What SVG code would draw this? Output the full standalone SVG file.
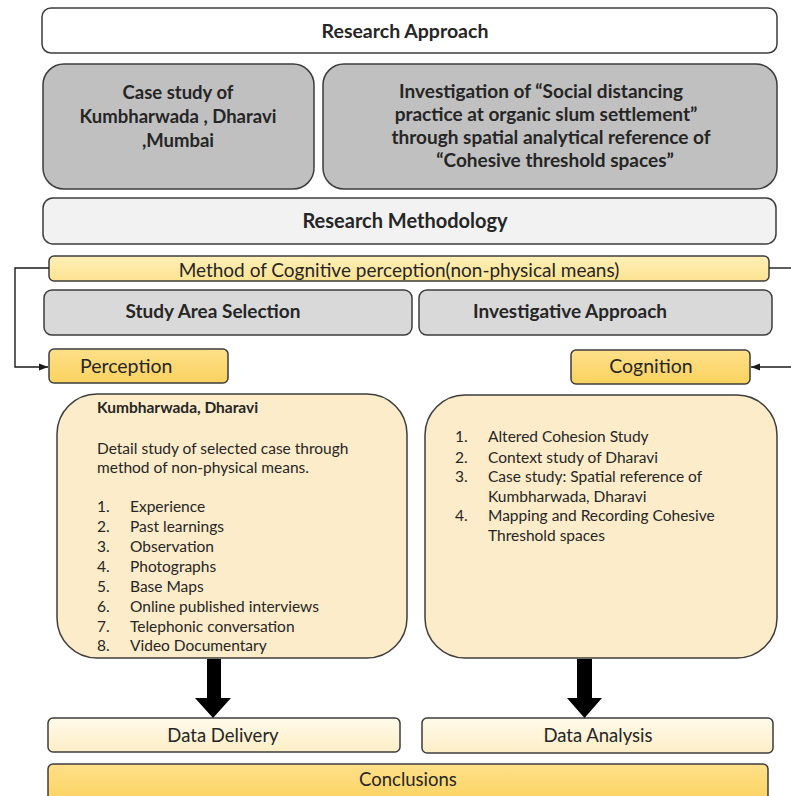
<svg xmlns="http://www.w3.org/2000/svg" width="791" height="796" viewBox="0 0 791 796">
  <defs>
    <marker id="tri" viewBox="0 0 10 10" refX="10" refY="5" markerWidth="9" markerHeight="9" markerUnits="userSpaceOnUse" orient="auto">
      <path d="M0,1 L10,5 L0,9 Z" fill="#1a1a1a"/>
    </marker>
    <linearGradient id="gold" x1="0" y1="0" x2="0" y2="1">
      <stop offset="0" stop-color="#ffe08a"/>
      <stop offset="1" stop-color="#fad25e"/>
    </linearGradient>
    <linearGradient id="cream" x1="0" y1="0" x2="0" y2="1">
      <stop offset="0" stop-color="#fffaea"/>
      <stop offset="1" stop-color="#fdeec6"/>
    </linearGradient>
    <linearGradient id="butter" x1="0" y1="0" x2="0" y2="1">
      <stop offset="0" stop-color="#fff0b8"/>
      <stop offset="1" stop-color="#fde392"/>
    </linearGradient>
  </defs>
  <style>
    .box { stroke: #3d3d3d; stroke-width: 1.5; }
    .t { font-family: Lato, "Open Sans", "Liberation Sans", sans-serif; fill: #262626; }
    .b { font-weight: bold; }
    .c { text-anchor: middle; }
    .conn { fill: none; stroke: #1a1a1a; stroke-width: 1.4; }
    .list { font-size: 15.5px; }
  </style>
  <rect width="791" height="796" fill="#ffffff"/>

  <g id="research-approach">
    <rect class="box" x="42" y="8" width="735" height="45" rx="9" fill="#ffffff"/>
    <text class="t b c" x="405" y="38" font-size="19.5">Research Approach</text>
  </g>

  <g id="case-study">
    <rect class="box" x="43" y="64" width="271" height="125" rx="21" fill="#c0c0c0"/>
    <text class="t b c" font-size="18.5"><tspan x="178" y="99">Case study of</tspan><tspan x="178" y="123">Kumbharwada , Dharavi</tspan><tspan x="178" y="147">,Mumbai</tspan></text>
  </g>

  <g id="investigation">
    <rect class="box" x="323" y="64" width="454" height="125" rx="21" fill="#c0c0c0"/>
    <text class="t b c" font-size="19"><tspan x="541" y="98">Investigation of “Social distancing</tspan><tspan x="546" y="121">practice at organic slum settlement”</tspan><tspan x="551" y="144">through spatial analytical  reference of</tspan><tspan x="555" y="167">“Cohesive threshold spaces”</tspan></text>
  </g>

  <g id="research-methodology">
    <rect class="box" x="43" y="198" width="733" height="46" rx="10" fill="#f2f2f2"/>
    <text class="t b c" x="405" y="228" font-size="20">Research Methodology</text>
  </g>

  <g id="cognitive-method">
    <rect class="box" x="49" y="256" width="720" height="25" rx="5" fill="url(#butter)"/>
    <text class="t c" x="399" y="277" font-size="19">Method of Cognitive perception(non-physical means)</text>
  </g>

  <g id="study-area">
    <rect class="box" x="44" y="290" width="368" height="45" rx="8" fill="#d9d9d9"/>
    <text class="t b c" x="213" y="318" font-size="19">Study Area Selection</text>
  </g>

  <g id="investigative-approach">
    <rect class="box" x="419" y="290" width="353" height="45" rx="8" fill="#d9d9d9"/>
    <text class="t b c" x="570" y="318" font-size="19">Investigative Approach</text>
  </g>

  <g id="perception">
    <rect class="box" x="49" y="349" width="179" height="34" rx="5" fill="url(#gold)"/>
    <text class="t" x="80" y="373" font-size="19.5">Perception</text>
  </g>

  <g id="cognition">
    <rect class="box" x="571" y="350" width="179" height="34" rx="5" fill="url(#gold)"/>
    <text class="t c" x="651" y="373" font-size="19.5">Cognition</text>
  </g>

  <g id="perception-detail">
    <rect class="box" x="57" y="394" width="350" height="264" rx="40" fill="#fcecc9"/>
    <text class="t b" x="97" y="413" font-size="15.5">Kumbharwada,  Dharavi</text>
    <text class="t list"><tspan x="97" y="454">Detail study of selected case through</tspan><tspan x="97" y="473">method of non-physical means.</tspan></text>
    <text class="t list">
      <tspan x="97" y="512">1.</tspan><tspan x="130" y="512">Experience</tspan>
      <tspan x="97" y="532">2.</tspan><tspan x="130" y="532">Past learnings</tspan>
      <tspan x="97" y="552">3.</tspan><tspan x="130" y="552">Observation</tspan>
      <tspan x="97" y="572">4.</tspan><tspan x="130" y="572">Photographs</tspan>
      <tspan x="97" y="592">5.</tspan><tspan x="130" y="592">Base Maps</tspan>
      <tspan x="97" y="612">6.</tspan><tspan x="130" y="612">Online published interviews</tspan>
      <tspan x="97" y="632">7.</tspan><tspan x="130" y="632">Telephonic conversation</tspan>
      <tspan x="97" y="651">8.</tspan><tspan x="130" y="651">Video Documentary</tspan>
    </text>
  </g>

  <g id="cognition-detail">
    <rect class="box" x="425" y="395" width="352" height="263" rx="40" fill="#fcecc9"/>
    <text class="t list">
      <tspan x="455" y="442">1.</tspan><tspan x="488" y="442">Altered Cohesion Study</tspan>
      <tspan x="455" y="463">2.</tspan><tspan x="488" y="463">Context study of Dharavi</tspan>
      <tspan x="455" y="482">3.</tspan><tspan x="488" y="482">Case study: Spatial reference of</tspan>
      <tspan x="488" y="502">Kumbharwada, Dharavi</tspan>
      <tspan x="455" y="521">4.</tspan><tspan x="488" y="521">Mapping and Recording Cohesive</tspan>
      <tspan x="488" y="541">Threshold spaces</tspan>
    </text>
  </g>

  <g id="data-delivery">
    <rect class="box" x="48" y="718" width="352" height="34" rx="5" fill="url(#cream)"/>
    <text class="t c" x="223" y="742" font-size="18.5">Data Delivery</text>
  </g>

  <g id="data-analysis">
    <rect class="box" x="422" y="718" width="351" height="35" rx="5" fill="url(#cream)"/>
    <text class="t c" x="598" y="742" font-size="18.5">Data Analysis</text>
  </g>

  <g id="conclusions">
    <rect class="box" x="48" y="764" width="720" height="40" rx="5" fill="url(#gold)"/>
    <text class="t c" x="408" y="786" font-size="18.5">Conclusions</text>
  </g>

  <g id="connectors">
    <path class="conn" d="M49,268 H15 V367 H48" marker-end="url(#tri)"/>
    <path class="conn" d="M769,268 H791"/>
    <path class="conn" d="M791,367 H751" marker-end="url(#tri)"/>
    <path d="M207,659 H221 V698 H231 L213,718 L195,698 H207 Z" fill="#000000"/>
    <path d="M577,659 H592 V698 H602 L584.5,718 L567,698 H577 Z" fill="#000000"/>
  </g>
</svg>
